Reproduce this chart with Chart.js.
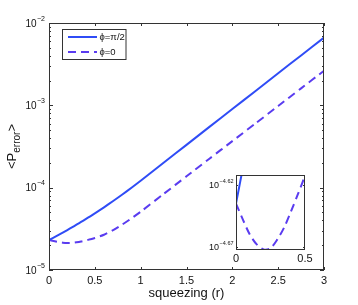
<!DOCTYPE html>
<html><head><meta charset="utf-8">
<script src="https://cdn.jsdelivr.net/npm/chart.js@4.4.1/dist/chart.umd.min.js"></script>
<style>
html,body{margin:0;padding:0;background:#fff;}
#wrap{position:relative;width:358px;height:305px;overflow:hidden;}
#main{position:absolute;left:0;top:0;}
#inset{position:absolute;left:195px;top:165px;}
</style></head><body>
<div id="wrap"><canvas id="main" width="358" height="305"></canvas><canvas id="inset" width="125" height="105"></canvas></div>
<script>
// ---- data ----
const squeezing = [0, 0.05, 0.1, 0.15, 0.2, 0.25, 0.3, 0.35, 0.4, 0.45, 0.5, 0.6, 0.7, 0.8, 0.9, 1.0, 1.25, 1.5, 1.75, 2.0, 2.25, 2.5, 2.75, 3.0];
const errPhiHalfPi = [2.317e-5, 2.477e-5, 2.653e-5, 2.845e-5, 3.057e-5, 3.290e-5, 3.547e-5, 3.831e-5, 4.145e-5, 4.492e-5, 4.875e-5, 5.773e-5, 6.886e-5, 8.266e-5, 9.993e-5, 1.216e-4, 2.004e-4, 3.311e-4, 5.470e-4, 9.016e-4, 1.486e-3, 2.455e-3, 4.036e-3, 6.637e-3];
const errPhiZero = [2.317e-5, 2.249e-5, 2.188e-5, 2.148e-5, 2.128e-5, 2.133e-5, 2.168e-5, 2.218e-5, 2.286e-5, 2.360e-5, 2.443e-5, 2.679e-5, 3.055e-5, 3.573e-5, 4.246e-5, 5.105e-5, 8.375e-5, 1.374e-4, 2.249e-4, 3.673e-4, 5.998e-4, 9.817e-4, 1.607e-3, 2.630e-3];
const seriesLabels = ['\u03D5=\u03C0/2', '\u03D5=0'];
const xTicks = [0, 0.5, 1, 1.5, 2, 2.5, 3];
const xTickLabels = ['0', '0.5', '1', '1.5', '2', '2.5', '3'];
const yTickExponents = [-2, -3, -4, -5];
const insetXTicks = [0, 0.5];
const insetXTickLabels = ['0', '0.5'];
const insetYTickExponents = ['-4.62', '-4.67'];
const xTitle = 'squeezing (r)';
const yTitleMain = '<P', yTitleSub = 'error', yTitleEnd = '>';

// ---- styling ----
const FONT = "'Liberation Sans', Arial, Helvetica, sans-serif";
const AXIS = '#333333';
const C_SOLID = '#2f4cf6';
const C_DASH = '#5a3cf0';
const DASH = [8, 5];

function pts(xs, ys) { return xs.map((x, i) => ({x: x, y: ys[i]})); }
function supLabel(ctx, base, exp, xRight, y, fBase, fExp, expDy) {
  ctx.font = fExp + 'px ' + FONT;
  const we = ctx.measureText(exp).width;
  ctx.textAlign = 'right';
  ctx.textBaseline = 'alphabetic';
  ctx.fillText(exp, xRight, y + expDy);
  ctx.font = fBase + 'px ' + FONT;
  ctx.fillText(base, xRight - we - 0.5, y + fBase * 0.36);
}

const mainDecor = {
  id: 'mainDecor',
  afterDraw(chart) {
    const ctx = chart.ctx, a = chart.chartArea;
    const xs = chart.scales.x, ys = chart.scales.y;
    ctx.save();
    ctx.strokeStyle = AXIS; ctx.lineWidth = 1; ctx.fillStyle = '#111';
    ctx.strokeRect(a.left + 0.5, a.top + 0.5, a.right - a.left - 1, a.bottom - a.top - 1);
    ctx.beginPath();
    xTicks.forEach(v => {
      const px = Math.round(xs.getPixelForValue(v)) + 0.5;
      ctx.moveTo(px, a.bottom); ctx.lineTo(px, a.bottom - 3);
      ctx.moveTo(px, a.top); ctx.lineTo(px, a.top + 3);
    });
    for (let d = -5; d <= -2; d++) {
      for (let m = 1; m <= 9; m++) {
        if (d === -2 && m > 1) break;
        const py = Math.round(ys.getPixelForValue(m * Math.pow(10, d))) + 0.5;
        const len = m === 1 ? 4 : 2;
        ctx.moveTo(a.left, py); ctx.lineTo(a.left + len, py);
        ctx.moveTo(a.right, py); ctx.lineTo(a.right - len, py);
      }
    }
    ctx.stroke();
    ctx.font = '11px ' + FONT; ctx.textAlign = 'center'; ctx.textBaseline = 'alphabetic';
    xTicks.forEach((v, i) => ctx.fillText(xTickLabels[i], xs.getPixelForValue(v), a.bottom + 14));
    yTickExponents.forEach(e => {
      const py = ys.getPixelForValue(Math.pow(10, e));
      supLabel(ctx, '10', '\u2212' + Math.abs(e), a.left - 4, py, 10, 7, -2.5);
    });
    ctx.font = '13px ' + FONT; ctx.textAlign = 'center'; ctx.textBaseline = 'alphabetic';
    ctx.fillText(xTitle, (a.left + a.right) / 2, 297);
    ctx.save();
    ctx.translate(15.5, (a.top + a.bottom) / 2);
    ctx.rotate(-Math.PI / 2);
    ctx.textAlign = 'left';
    ctx.font = '13px ' + FONT; const w1 = ctx.measureText(yTitleMain).width; const w3 = ctx.measureText(yTitleEnd).width;
    ctx.font = '10px ' + FONT; const w2 = ctx.measureText(yTitleSub).width;
    let sx = -(w1 + w2 + w3) / 2;
    ctx.font = '13px ' + FONT; ctx.fillText(yTitleMain, sx, 0);
    ctx.font = '10px ' + FONT; ctx.fillText(yTitleSub, sx + w1, 4);
    ctx.font = '13px ' + FONT; ctx.fillText(yTitleEnd, sx + w1 + w2, 0);
    ctx.restore();
    const lx = 62.5, ly = 29.5, lw = 63.5, lh = 30;
    ctx.fillStyle = '#fff'; ctx.fillRect(lx, ly, lw, lh);
    ctx.strokeStyle = AXIS; ctx.strokeRect(lx, ly, lw, lh);
    chart.data.datasets.forEach((ds, i) => {
      const yy = ly + 7.5 + i * 15;
      ctx.beginPath(); ctx.strokeStyle = ds.borderColor; ctx.lineWidth = 2;
      ctx.setLineDash(ds.borderDash || []);
      ctx.moveTo(lx + 5.5, yy); ctx.lineTo(lx + 34.5, yy); ctx.stroke();
      ctx.setLineDash([]);
      ctx.fillStyle = '#111'; ctx.font = '9.5px ' + FONT; ctx.textAlign = 'left'; ctx.textBaseline = 'middle';
      ctx.fillText(ds.label, lx + 37, yy + 0.5);
    });
    ctx.restore();
  }
};

new Chart(document.getElementById('main'), {
  type: 'line',
  data: {
    datasets: [
      {label: seriesLabels[0], data: pts(squeezing, errPhiHalfPi), borderColor: C_SOLID, borderWidth: 2, pointRadius: 0, tension: 0.2, fill: false},
      {label: seriesLabels[1], data: pts(squeezing, errPhiZero), borderColor: C_DASH, borderWidth: 2, borderDash: DASH, pointRadius: 0, tension: 0.2, fill: false}
    ]
  },
  options: {
    responsive: false, animation: false, devicePixelRatio: 1,
    layout: {padding: {left: 49, top: 23, right: 34, bottom: 35}},
    plugins: {legend: {display: false}, tooltip: {enabled: false}},
    scales: {
      x: {type: 'linear', min: 0, max: 3, display: false},
      y: {type: 'logarithmic', min: 1e-5, max: 1e-2, display: false}
    }
  },
  plugins: [mainDecor]
});

const insetDecor = {
  id: 'insetDecor',
  beforeDatasetsDraw(chart) {
    const ctx = chart.ctx, a = chart.chartArea;
    ctx.save(); ctx.fillStyle = '#fff';
    ctx.fillRect(a.left, a.top, a.right - a.left, a.bottom - a.top);
    ctx.restore();
  },
  afterDraw(chart) {
    const ctx = chart.ctx, a = chart.chartArea;
    const xs = chart.scales.x, ys = chart.scales.y;
    ctx.save();
    ctx.strokeStyle = AXIS; ctx.lineWidth = 1; ctx.fillStyle = '#111';
    ctx.strokeRect(a.left + 0.5, a.top + 0.5, a.right - a.left - 1, a.bottom - a.top - 1);
    ctx.beginPath();
    insetYTickExponents.forEach(e => {
      const py = Math.round(ys.getPixelForValue(Math.pow(10, parseFloat(e)))) + 0.5;
      ctx.moveTo(a.left, py); ctx.lineTo(a.left + 2, py);
      ctx.moveTo(a.right, py); ctx.lineTo(a.right - 2, py);
    });
    ctx.stroke();
    ctx.font = '11px ' + FONT; ctx.textAlign = 'center'; ctx.textBaseline = 'alphabetic';
    insetXTicks.forEach((v, i) => ctx.fillText(insetXTickLabels[i], xs.getPixelForValue(v), a.bottom + 12));
    insetYTickExponents.forEach(e => {
      const py = ys.getPixelForValue(Math.pow(10, parseFloat(e)));
      supLabel(ctx, '10', e.replace('-', '\u2212'), a.left - 2.5, py, 9, 5.5, -1.5);
    });
    ctx.restore();
  }
};

new Chart(document.getElementById('inset'), {
  type: 'line',
  data: {
    datasets: [
      {label: seriesLabels[0], data: pts(squeezing, errPhiHalfPi), borderColor: C_SOLID, borderWidth: 2, pointRadius: 0, tension: 0.3, fill: false},
      {label: seriesLabels[1], data: pts(squeezing, errPhiZero), borderColor: C_DASH, borderWidth: 2, borderDash: DASH, pointRadius: 0, tension: 0.3, fill: false}
    ]
  },
  options: {
    responsive: false, animation: false, devicePixelRatio: 1,
    layout: {padding: {left: 41, top: 10, right: 15, bottom: 20}},
    plugins: {legend: {display: false}, tooltip: {enabled: false}},
    scales: {
      x: {type: 'linear', min: 0, max: 0.5, display: false},
      y: {type: 'logarithmic', min: Math.pow(10, -4.6725), max: Math.pow(10, -4.612), display: false}
    }
  },
  plugins: [insetDecor]
});
</script>
</body></html>
